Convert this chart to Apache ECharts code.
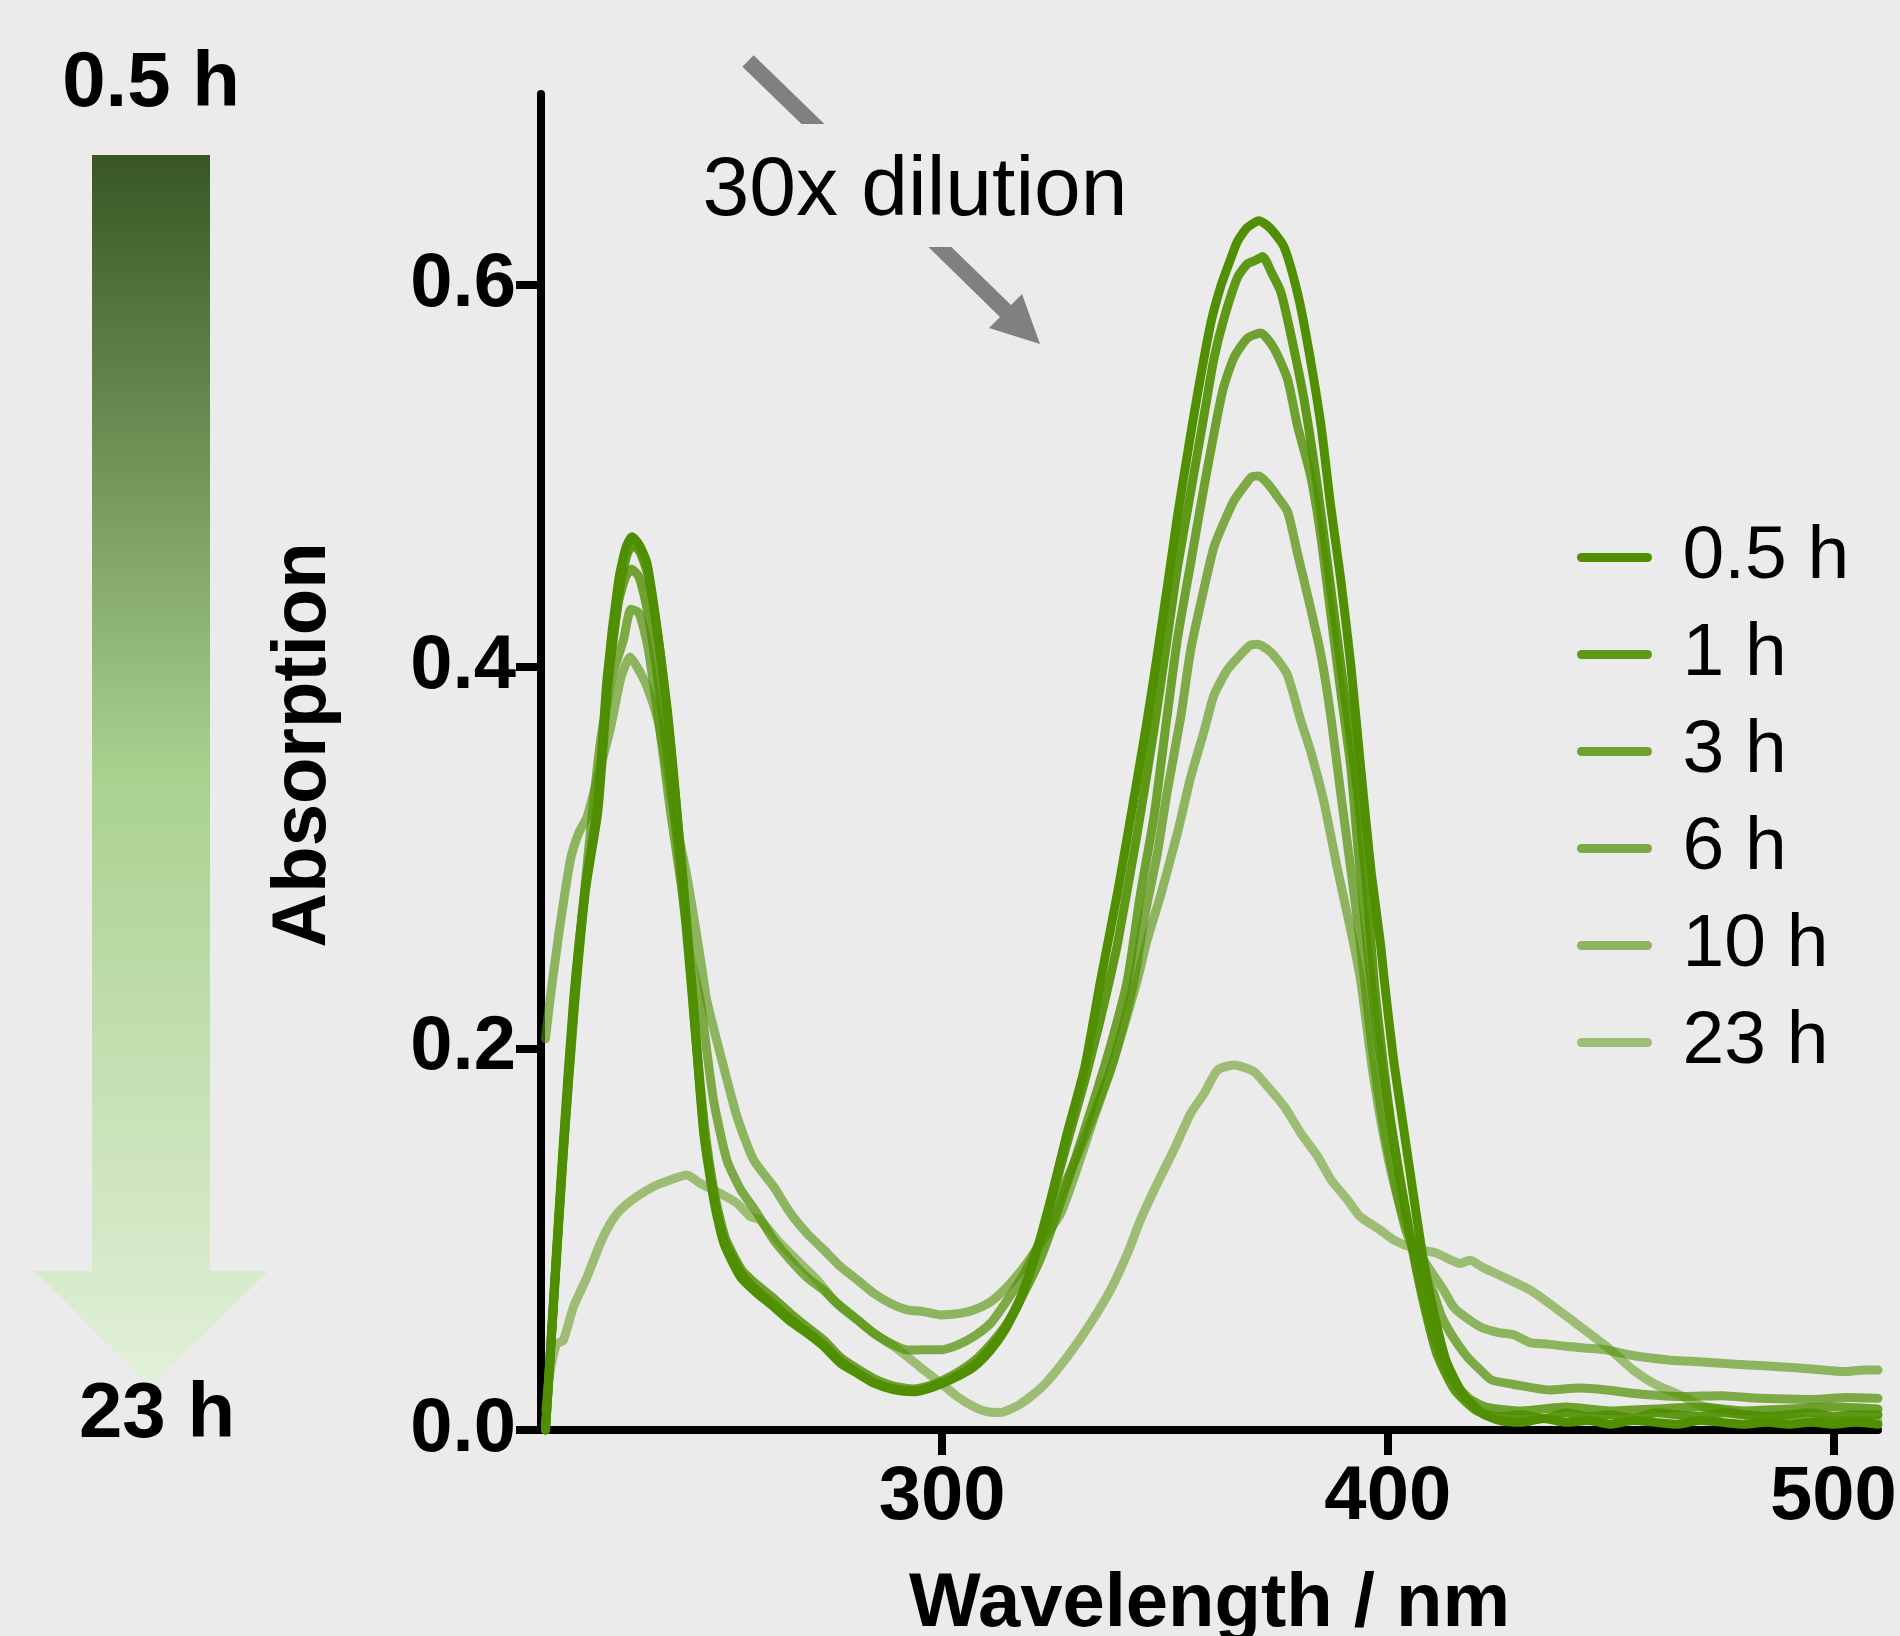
<!DOCTYPE html>
<html>
<head>
<meta charset="utf-8">
<script src="https://cdn.jsdelivr.net/npm/echarts@6/dist/echarts.min.js"></script>
<style>
html,body{margin:0;padding:0;background:#ebebeb;}
#chart{width:1900px;height:1636px;}
</style>
</head>
<body>
<div id="chart"></div>
<script>
// ---- data (wavelength nm, absorption) ----
const seriesNames = ['0.5 h', '1 h', '3 h', '6 h', '10 h', '23 h'];
const xTickValues = [300, 400, 500];
const yTickValues = [0, 0.2, 0.4, 0.6];

const s05 = [[211,0],[213,0.075],[215,0.15],[217.3,0.225],[220,0.285],[222.6,0.323],[224.8,0.393],[227.4,0.445],[229,0.462],[230.4,0.468],[232,0.464],[233.8,0.454],[236.1,0.419],[238.4,0.376],[239.9,0.34],[241.5,0.297],[243.7,0.236],[246.5,0.156],[248.8,0.12],[251,0.098],[254.8,0.08],[258.5,0.0716],[262.2,0.0646],[266,0.0568],[269.7,0.0507],[273.5,0.0437],[277.2,0.035],[281,0.0297],[284.7,0.0245],[289.2,0.021],[293.7,0.02],[298.2,0.0227],[303.4,0.028],[307.1,0.033],[310.9,0.0419],[314,0.052],[317.5,0.068],[321,0.092],[324.5,0.122],[328,0.155],[332,0.19],[335.6,0.236],[339.3,0.2807],[342.3,0.3208],[346,0.3716],[348.3,0.4063],[350.5,0.4412],[352.8,0.4785],[355,0.5106],[357.3,0.5427],[360.3,0.58],[362.5,0.599],[364.5,0.612],[366.3,0.6229],[368.5,0.63],[371.1,0.6336],[373.5,0.63],[376.7,0.62],[379.7,0.5962],[382,0.5694],[385,0.5266],[387.2,0.4839],[389.4,0.4464],[391.7,0.401],[393.9,0.3475],[396.2,0.294],[398.4,0.254],[399.2,0.236],[401.3,0.194],[403.5,0.159],[405.7,0.124],[408,0.089],[410.2,0.063],[413,0.037],[416.8,0.019],[421,0.009],[425,0.005],[430,0.004],[435,0.006],[440,0.004],[445,0.005],[450,0.003],[455,0.005],[460,0.004],[465,0.003],[470,0.005],[475,0.004],[480,0.003],[485,0.004],[490,0.003],[495,0.004],[500,0.003],[505,0.004],[510,0.003]];

const s1 = [[211,0],[213,0.072],[215,0.145],[217.5,0.222],[220,0.283],[222.8,0.325],[225,0.39],[227.6,0.44],[229.2,0.458],[230.6,0.464],[232.2,0.46],[234,0.448],[236.3,0.415],[238.5,0.372],[240,0.336],[241.7,0.293],[243.9,0.232],[246.6,0.155],[249,0.12],[251.2,0.099],[255,0.082],[258.5,0.073],[262.2,0.066],[266,0.058],[269.7,0.0515],[273.5,0.0445],[277.2,0.036],[281,0.03],[284.7,0.025],[289.2,0.0215],[293.7,0.0205],[298.2,0.023],[303.4,0.0285],[307.1,0.034],[310.9,0.043],[314,0.053],[317.5,0.069],[321,0.092],[324.5,0.12],[328,0.15],[332,0.183],[335.5,0.215],[337.8,0.238],[339.3,0.254],[343.8,0.3128],[347.5,0.3663],[350.5,0.4144],[352.8,0.4518],[355.8,0.4919],[358.8,0.532],[361,0.5614],[363.3,0.5828],[366.3,0.604],[368.5,0.611],[370.5,0.613],[371.9,0.6149],[374,0.606],[376,0.5963],[378.2,0.5745],[381.2,0.54],[384.2,0.4946],[387.2,0.4412],[390.2,0.3877],[393.2,0.3343],[395.4,0.2807],[396.9,0.2358],[398.7,0.198],[400.6,0.163],[403,0.128],[405.5,0.095],[408,0.067],[411,0.04],[415,0.021],[420,0.01],[425,0.007],[430,0.008],[435,0.006],[440,0.009],[445,0.007],[450,0.008],[455,0.006],[460,0.009],[465,0.008],[470,0.007],[475,0.009],[480,0.008],[485,0.007],[490,0.008],[495,0.009],[500,0.007],[505,0.008],[510,0.008]];

const s3 = [[211,0],[213,0.074],[215,0.147],[217.4,0.224],[220,0.285],[222.6,0.326],[224.8,0.388],[227.4,0.434],[229,0.447],[230.3,0.451],[232,0.447],[234,0.428],[236.3,0.392],[238.5,0.352],[240.5,0.31],[242.5,0.265],[244.5,0.212],[246.8,0.157],[249,0.123],[251.3,0.101],[255,0.084],[258.5,0.076],[262.2,0.069],[266,0.061],[269.7,0.054],[273.5,0.047],[277.2,0.038],[281,0.032],[284.7,0.027],[289.2,0.023],[293.7,0.0215],[298.2,0.024],[303.4,0.03],[307.1,0.036],[310.9,0.045],[314.6,0.056],[318.4,0.072],[322.1,0.09],[326,0.115],[330,0.143],[334,0.172],[338,0.203],[341.6,0.2358],[344.5,0.2807],[347.5,0.3208],[350.5,0.3743],[352.8,0.4144],[355.8,0.4545],[358.8,0.4946],[361,0.522],[363,0.545],[365.5,0.562],[368.5,0.572],[371.5,0.5748],[374.5,0.5667],[377.5,0.5507],[379.7,0.5266],[382.7,0.4999],[385,0.4679],[387.2,0.4277],[389.4,0.3877],[391.7,0.3475],[393.2,0.3076],[395.4,0.254],[397.5,0.21],[400,0.17],[402.5,0.135],[405,0.103],[407.5,0.075],[410.5,0.048],[414,0.028],[418,0.017],[422,0.012],[430,0.01],[440,0.012],[450,0.01],[460,0.011],[470,0.012],[480,0.01],[490,0.011],[500,0.012],[510,0.011]];

const s6 = [[211,0],[213,0.074],[215,0.146],[217.5,0.224],[220,0.288],[223.3,0.36],[226,0.395],[228.5,0.414],[230.2,0.43],[232,0.428],[234,0.41],[236.5,0.37],[239,0.325],[241.5,0.285],[243.5,0.25],[245.7,0.225],[248.7,0.173],[251.7,0.1415],[254.8,0.126],[258.5,0.1135],[262.2,0.0996],[266,0.089],[269.7,0.08],[273.5,0.073],[277.2,0.0646],[281,0.0576],[284.7,0.0507],[288.4,0.0454],[292.2,0.0419],[295.9,0.042],[299.7,0.042],[303.4,0.0445],[307.1,0.049],[310.9,0.056],[314.6,0.068],[318.4,0.082],[322.1,0.0996],[326.6,0.124],[330,0.142],[334,0.165],[338,0.19],[341,0.215],[343.1,0.2358],[345.3,0.2673],[348.3,0.3021],[350.5,0.3343],[353.6,0.3743],[355.8,0.409],[358.8,0.4412],[361,0.4627],[363.3,0.4759],[365.5,0.487],[367.8,0.4946],[369.5,0.4995],[371.1,0.4999],[373,0.496],[375.2,0.4892],[377.5,0.4812],[379.7,0.4598],[382.7,0.4304],[385,0.4063],[387.2,0.3743],[389.4,0.3343],[391.7,0.294],[393.9,0.254],[396.5,0.2],[399,0.16],[401.5,0.13],[404,0.105],[406.5,0.09],[408.5,0.08],[410.3,0.0716],[412,0.06],[414.1,0.0507],[417.8,0.0384],[420.8,0.0314],[423.3,0.0262],[428,0.024],[436.2,0.021],[443,0.022],[449.1,0.021],[456,0.019],[466.3,0.0175],[475,0.018],[483.4,0.0166],[495,0.016],[503,0.017],[510,0.0166]];

const s10 = [[211,0.205],[212,0.225],[214,0.26],[216.6,0.2987],[218.5,0.313],[220.3,0.321],[222.5,0.34],[225.5,0.367],[227.8,0.393],[229,0.401],[230,0.405],[231.5,0.4],[233.8,0.3895],[236.2,0.372],[238,0.35],[239.9,0.323],[242.9,0.288],[245.9,0.245],[247.2,0.225],[251,0.19],[254,0.164],[257.7,0.1415],[262.2,0.1275],[266,0.1135],[269.7,0.103],[273.5,0.0943],[277.2,0.0856],[281,0.0786],[284.7,0.0716],[288.4,0.0664],[292.2,0.0629],[295.9,0.062],[299.7,0.0603],[304,0.0611],[307.1,0.0629],[310.9,0.0672],[314.6,0.075],[318.4,0.0856],[322.1,0.0978],[326.6,0.1135],[330,0.135],[334,0.163],[338,0.19],[341,0.213],[343.8,0.2358],[346,0.2567],[349.1,0.2807],[352.8,0.3128],[355.8,0.3422],[358.8,0.3663],[361,0.385],[364,0.3983],[367,0.4063],[369,0.411],[370.8,0.4117],[373,0.409],[375.2,0.4037],[377.5,0.3956],[380.5,0.3716],[382.7,0.3556],[385.7,0.3288],[388.7,0.294],[391.7,0.262],[393.9,0.2358],[396.5,0.19],[399,0.155],[401.5,0.128],[404,0.108],[406.5,0.095],[409.5,0.0838],[412.5,0.0734],[414.7,0.0646],[416.3,0.0611],[420.8,0.054],[425,0.051],[428.4,0.0498],[431.9,0.0458],[436,0.045],[440.5,0.0437],[444,0.043],[449.1,0.0419],[455,0.039],[462.9,0.0367],[468,0.036],[474.9,0.035],[481,0.034],[487.8,0.0332],[495,0.032],[502.4,0.0306],[507,0.0315],[510,0.0314]];

const s23 = [[211,0.01],[212,0.03],[213.5,0.045],[215,0.047],[217.3,0.0646],[220.3,0.08],[223.3,0.0978],[225.5,0.108],[227.8,0.1153],[231.5,0.1223],[235.2,0.1275],[239,0.131],[242.7,0.1336],[245.7,0.1293],[250.2,0.124],[254,0.1188],[257,0.1118],[259.2,0.11],[263.7,0.0978],[268.2,0.0873],[272,0.0786],[275.7,0.0681],[280.2,0.0594],[284.7,0.0507],[289.2,0.0437],[292.2,0.0384],[295.9,0.0314],[299.7,0.0245],[303.4,0.0175],[307.1,0.0122],[310.1,0.0096],[313.1,0.0092],[317.5,0.0135],[322.5,0.0227],[328.1,0.0384],[333.3,0.0559],[337.8,0.0734],[341.6,0.0926],[344.5,0.11],[348.3,0.1293],[352,0.1467],[355.8,0.166],[358.8,0.1764],[361.8,0.1886],[365.5,0.1913],[370,0.1877],[373,0.18],[376.8,0.1694],[380.5,0.1555],[384.3,0.1432],[387.3,0.131],[391,0.1205],[393.8,0.1118],[398.3,0.1048],[401.3,0.0996],[405.8,0.0952],[411,0.0926],[416.3,0.0873],[418.5,0.089],[421,0.0856],[425,0.0812],[431.9,0.0734],[437,0.065],[442.2,0.0559],[449.1,0.0437],[455.1,0.0314],[460,0.024],[466.3,0.0175],[470,0.013],[474.9,0.0105],[480,0.008],[490,0.006],[500,0.005],[510,0.005]];

const seriesData = [s05, s1, s3, s6, s10, s23];

// ---- styling ----
const baseRGB = '79,143,0';
const alphas = [1, 0.9, 0.8, 0.7, 0.6, 0.5];
const FONT = '"Liberation Sans", Arial, Helvetica, sans-serif';

const chart = echarts.init(document.getElementById('chart'), null, {renderer: 'canvas'});

const series = seriesNames.map((name, i) => ({
  name: name,
  type: 'line',
  data: seriesData[i],
  symbol: 'none',
  showSymbol: false,
  smooth: 0.2,
  clip: false,
  lineStyle: { color: 'rgba(' + baseRGB + ',' + alphas[i] + ')', width: 9, cap: 'round', join: 'round' },
  itemStyle: { color: 'rgba(' + baseRGB + ',' + alphas[i] + ')' },
  emphasis: { disabled: true }
}));

const option = {
  backgroundColor: '#ebebeb',
  animation: false,
  grid: { left: 541, right: 22, top: 94, bottom: 206, containLabel: false, outerBoundsMode: 'none' },
  xAxis: {
    type: 'value', min: 210, max: 510,
    name: 'Wavelength / nm', nameLocation: 'middle', nameGap: 137,
    nameTextStyle: { fontSize: 76, fontWeight: 'bold', color: '#000', fontFamily: FONT },
    axisLine: { lineStyle: { color: '#000', width: 8 } },
    axisTick: { customValues: xTickValues, length: 25, lineStyle: { color: '#000', width: 8 } },
    axisLabel: { customValues: xTickValues, margin: 30, fontSize: 76, fontWeight: 'bold', color: '#000', fontFamily: FONT },
    splitLine: { show: false }
  },
  yAxis: {
    type: 'value', min: 0, max: 0.7,
    name: 'Absorption', nameLocation: 'middle', nameGap: 199,
    nameTextStyle: { fontSize: 76, fontWeight: 'bold', color: '#000', fontFamily: FONT, padding: [0, 0, 0, 34] },
    axisLine: { show: true, lineStyle: { color: '#000', width: 8 } },
    axisTick: { show: true, customValues: yTickValues, length: 25, lineStyle: { color: '#000', width: 8 } },
    axisLabel: { customValues: yTickValues, margin: 25, fontSize: 76, fontWeight: 'bold', color: '#000', fontFamily: FONT,
      formatter: v => v.toFixed(1) },
    splitLine: { show: false }
  },
  legend: {
    orient: 'vertical', left: 1577, top: 520, padding: 0, itemGap: 22,
    itemWidth: 66, itemHeight: 20, selectedMode: false,
    data: seriesNames,
    itemStyle: { color: 'rgba(0,0,0,0)', borderColor: 'rgba(0,0,0,0)', borderWidth: 0 },
    lineStyle: { width: 9, cap: 'round' },
    textStyle: { fontSize: 75, color: '#000', fontFamily: FONT, lineHeight: 74, padding: [0, 0, 0, 30] }
  },
  graphic: [
    {
      type: 'polygon', silent: true,
      shape: { points: [[92,155],[210,155],[210,1271],[268,1271],[151,1387],[34,1271],[92,1271]] },
      style: { fill: new echarts.graphic.LinearGradient(0, 0, 0, 1, [
        { offset: 0, color: '#385723' },
        { offset: 0.5, color: '#A9D18E' },
        { offset: 1, color: '#E2F0D9' }
      ]) }
    },
    { type: 'text', silent: true, style: { text: '0.5 h', x: 151, y: 84, align: 'center', verticalAlign: 'middle', font: 'bold 78px ' + FONT, fill: '#000' } },
    { type: 'text', silent: true, style: { text: '23 h', x: 157, y: 1415, align: 'center', verticalAlign: 'middle', font: 'bold 78px ' + FONT, fill: '#000' } },
    {
      type: 'polygon', silent: true,
      shape: { points: [[742.4,66.7],[753.6,55.3],[824.5,124],[801.5,124]] },
      style: { fill: '#808080' }
    },
    {
      type: 'polygon', silent: true,
      shape: { points: [[928.4,247],[951.4,247],[1011,305],[1022,294],[1040,344],[989,328],[1000,317]] },
      style: { fill: '#808080' }
    },
    { type: 'text', silent: true, style: { text: '30x dilution', x: 915, y: 192, align: 'center', verticalAlign: 'middle', font: '84px ' + FONT, fill: '#000' } }
  ],
  series: series
};

chart.setOption(option);
</script>
</body>
</html>
